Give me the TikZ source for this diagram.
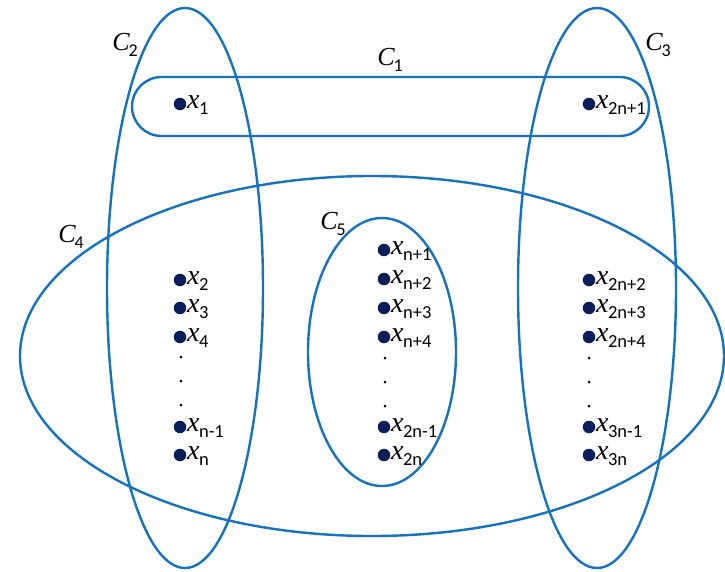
\documentclass[tikz,border=0pt]{standalone}
\usepackage{fontspec}
\setmainfont{Liberation Serif}
\newfontfamily\subfont{Carlito}
\definecolor{setblue}{RGB}{20,114,190}
\definecolor{dotnavy}{RGB}{12,30,90}
\newcommand{\xs}[1]{{\fontsize{28}{28}\selectfont\itshape x}\kern-0.5pt\raisebox{-6pt}{\subfont\fontsize{18.5}{18.5}\selectfont #1}}
\newcommand{\cs}[1]{{\fontsize{26}{26}\selectfont\itshape C}\kern-1pt\raisebox{-6pt}{\subfont\fontsize{18}{18}\selectfont #1}}
\tikzset{
  setline/.style={draw=setblue, line width=2.4pt},
  elt/.style={circle, fill=dotnavy, inner sep=0pt, minimum size=12.5pt},
  smalldot/.style={circle, fill=black, inner sep=0pt, minimum size=3pt},
  eltlabel/.style={anchor=west, inner sep=0pt, xshift=0.5pt, yshift=-1pt},
  setlabel/.style={inner sep=0pt}
}
\begin{document}
\begin{tikzpicture}[x=1pt,y=-1pt]
\useasboundingbox (0,0) rectangle (725,571);
% sets
\draw[setline] (185,288) ellipse [x radius=78, y radius=280];
\draw[setline] (597,288) ellipse [x radius=79, y radius=280];
\draw[setline] (372,356) ellipse [x radius=352, y radius=180];
\draw[setline] (382,352) ellipse [x radius=74, y radius=134];
\draw[setline, rounded corners=29.5pt] (132,77) rectangle (649,136);
% set labels
\node[setlabel] (c1) at (390,60) {\cs{1}};
\node[setlabel] (c2) at (125,45) {\cs{2}};
\node[setlabel] (c3) at (658,45) {\cs{3}};
\node[setlabel] (c4) at (71,237) {\cs{4}};
\node[setlabel] (c5) at (333,224) {\cs{5}};
% top elements
\node[elt] (e1) at (180,104) {};
\node[eltlabel] at (e1.east) {\xs{1}};
\node[elt] (e2n1) at (589,104) {};
\node[eltlabel] at (e2n1.east) {\xs{2n+1}};
% left column
\node[elt] (l1) at (180,280) {};
\node[eltlabel] at (l1.east) {\xs{2}};
\node[elt] (l2) at (180,308) {};
\node[eltlabel] at (l2.east) {\xs{3}};
\node[elt] (l3) at (180,337) {};
\node[eltlabel] at (l3.east) {\xs{4}};
\node[smalldot] (ld1) at (181,357) {};
\node[smalldot] (ld2) at (181,381) {};
\node[smalldot] (ld3) at (181,405) {};
\node[elt] (l4) at (180,427) {};
\node[eltlabel] at (l4.east) {\xs{n-1}};
\node[elt] (l5) at (180,455) {};
\node[eltlabel] at (l5.east) {\xs{n}};
% middle column
\node[elt] (m1) at (384,250) {};
\node[eltlabel] at (m1.east) {\xs{n+1}};
\node[elt] (m2) at (384,279) {};
\node[eltlabel] at (m2.east) {\xs{n+2}};
\node[elt] (m3) at (384,308) {};
\node[eltlabel] at (m3.east) {\xs{n+3}};
\node[elt] (m4) at (384,337) {};
\node[eltlabel] at (m4.east) {\xs{n+4}};
\node[smalldot] (md1) at (385,358) {};
\node[smalldot] (md2) at (385,382) {};
\node[smalldot] (md3) at (385,406) {};
\node[elt] (m5) at (384,427) {};
\node[eltlabel] at (m5.east) {\xs{2n-1}};
\node[elt] (m6) at (384,455) {};
\node[eltlabel] at (m6.east) {\xs{2n}};
% right column
\node[elt] (r1) at (589,280) {};
\node[eltlabel] at (r1.east) {\xs{2n+2}};
\node[elt] (r2) at (589,308) {};
\node[eltlabel] at (r2.east) {\xs{2n+3}};
\node[elt] (r3) at (589,337) {};
\node[eltlabel] at (r3.east) {\xs{2n+4}};
\node[smalldot] (rd1) at (589,358) {};
\node[smalldot] (rd2) at (589,382) {};
\node[smalldot] (rd3) at (589,406) {};
\node[elt] (r4) at (589,427) {};
\node[eltlabel] at (r4.east) {\xs{3n-1}};
\node[elt] (r5) at (589,455) {};
\node[eltlabel] at (r5.east) {\xs{3n}};
\end{tikzpicture}
\end{document}
